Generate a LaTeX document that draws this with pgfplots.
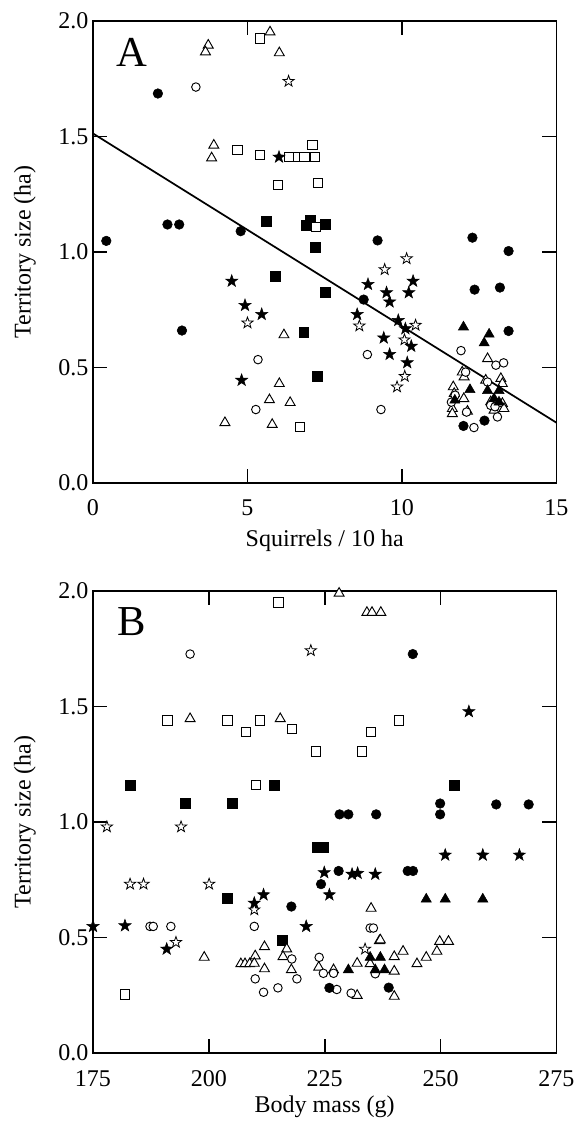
\documentclass[border=0pt]{standalone}
\usepackage{fontspec}
\setmainfont{Liberation Serif}
\usepackage{pgfplots}
\pgfplotsset{compat=1.18}

% five-pointed star, filled or open depending on fill colour
\pgfdeclareplotmark{fivestar}{%
  \pgfpathmoveto{\pgfpointpolar{90}{\pgfplotmarksize}}%
  \pgfpathlineto{\pgfpointpolar{126}{0.4\pgfplotmarksize}}%
  \pgfpathlineto{\pgfpointpolar{162}{\pgfplotmarksize}}%
  \pgfpathlineto{\pgfpointpolar{198}{0.4\pgfplotmarksize}}%
  \pgfpathlineto{\pgfpointpolar{234}{\pgfplotmarksize}}%
  \pgfpathlineto{\pgfpointpolar{270}{0.4\pgfplotmarksize}}%
  \pgfpathlineto{\pgfpointpolar{306}{\pgfplotmarksize}}%
  \pgfpathlineto{\pgfpointpolar{342}{0.4\pgfplotmarksize}}%
  \pgfpathlineto{\pgfpointpolar{18}{\pgfplotmarksize}}%
  \pgfpathlineto{\pgfpointpolar{54}{0.4\pgfplotmarksize}}%
  \pgfpathclose
  \pgfusepathqfillstroke}

\pgfplotsset{
  fc/.style={only marks, mark=*, mark size=3.6pt, mark options={fill=black, draw=black}},
  oc/.style={only marks, mark=*, mark size=3.2pt, mark options={fill=white, draw=black, line width=0.7pt}},
  fsq/.style={only marks, mark=square*, mark size=3.7pt, mark options={fill=black, draw=black}},
  osq/.style={only marks, mark=square*, mark size=3.5pt, mark options={fill=white, draw=black, line width=0.7pt}},
  ftr/.style={only marks, mark=triangle*, mark size=4.4pt, mark options={fill=black, draw=black}},
  otr/.style={only marks, mark=triangle*, mark size=4.3pt, mark options={fill=white, draw=black, line width=0.7pt}},
  fst/.style={only marks, mark=fivestar, mark size=4.8pt, mark options={fill=black, draw=black}},
  ost/.style={only marks, mark=fivestar, mark size=4.4pt, mark options={fill=white, draw=black, line width=0.6pt}},
  panel/.style={
    scale only axis, width=347.6pt, height=346.5pt,
    ymin=0, ymax=2, ytick={0,0.5,1,1.5,2},
    /pgf/number format/assume math mode=true,
    yticklabel style={/pgf/number format/.cd, fixed, fixed zerofill, precision=1},
    tick align=inside, major tick length=10.5pt,
    axis line style={line width=1.4pt},
    tick style={line width=1.2pt, black},
    ticklabel style={font=\fontsize{18}{20}\selectfont},
    xticklabel style={anchor=base, yshift=-24.75pt},
    label style={font=\fontsize{18}{20}\selectfont},
    ylabel={Territory size (ha)},
    ylabel style={at={(axis description cs:-0.147,0.5)}, anchor=center},
    clip=false,
  },
}

\begin{document}
\begin{tikzpicture}
\useasboundingbox (-69.75pt,-54.75pt) rectangle (363pt,789.75pt);

% ---------- panel B ----------
\begin{axis}[panel, at={(0,0)},
    xmin=175, xmax=275, xtick={175,200,225,250,275},
    xlabel={Body mass (g)},
    xlabel style={at={(axis description cs:0.5,-0.117)}, anchor=center}]
  \addplot[osq] coordinates {(215.0,1.95) (191.05,1.44) (204.0,1.44) (208.0,1.389) (211.07,1.44) (217.9,1.404) (223.1,1.306) (210.1,1.159) (241.0,1.44) (235.0,1.389) (233.0,1.306) (181.9,0.253)};
  \addplot[fsq] coordinates {(183.0,1.159) (195.0,1.08) (205.0,1.08) (214.1,1.159) (253.0,1.159) (223.4,0.892) (224.6,0.892) (204.0,0.669) (215.9,0.489)};
  \addplot[otr] coordinates {(228.1,1.99) (234.1,1.907) (235.2,1.907) (237.1,1.907) (195.95,1.447) (215.4,1.447) (199.0,0.414) (212.0,0.46) (206.9,0.386) (207.8,0.386) (208.8,0.386) (210.0,0.42) (209.8,0.388) (212.0,0.364) (216.8,0.45) (216.0,0.417) (217.8,0.36) (223.7,0.371) (236.8,0.486) (226.9,0.36) (232.0,0.388) (234.8,0.386) (240.0,0.417) (241.9,0.44) (240.0,0.354) (232.0,0.249) (240.0,0.245) (244.9,0.386) (246.9,0.414) (249.2,0.44) (249.8,0.483) (251.7,0.483) (235.0,0.626) (237.0,0.489)};
  \addplot[oc] coordinates {(195.95,1.727) (187.3,0.548) (188.0,0.548) (191.8,0.548) (209.8,0.548) (210.0,0.321) (211.8,0.263) (214.9,0.282) (217.9,0.407) (219.0,0.321) (223.8,0.414) (224.7,0.345) (226.9,0.345) (227.6,0.275) (230.7,0.259) (235.9,0.343) (234.8,0.541) (235.5,0.541)};
  \addplot[fc] coordinates {(244.0,1.727) (228.2,1.033) (230.1,1.033) (236.1,1.033) (249.9,1.08) (249.9,1.033) (262.0,1.076) (269.0,1.076) (224.2,0.731) (217.8,0.634) (226.0,0.282) (228.0,0.788) (242.9,0.788) (244.05,0.788) (238.8,0.283)};
  \addplot[ftr] coordinates {(246.9,0.666) (251.0,0.666) (259.1,0.666) (230.1,0.36) (234.8,0.414) (237.0,0.414) (235.9,0.36) (237.9,0.36)};
  \addplot[ost] coordinates {(222.0,1.742) (178.0,0.979) (194.0,0.979) (183.0,0.731) (185.9,0.731) (200.05,0.731) (209.8,0.62) (192.9,0.479) (233.7,0.45)};
  \addplot[fst] coordinates {(256.1,1.478) (251.0,0.857) (259.1,0.857) (267.0,0.857) (224.9,0.781) (230.9,0.774) (232.1,0.778) (235.9,0.774) (226.0,0.685) (209.8,0.649) (211.8,0.685) (221.0,0.548) (175.0,0.548) (181.9,0.551) (190.9,0.45)};
  \node at (axis cs:183.4,1.867) {\fontsize{32}{32}\selectfont B};
\end{axis}

% ---------- panel A ----------
\begin{axis}[panel, at={(0,427.5pt)},
    xmin=0, xmax=15, xtick={0,5,10,15},
    xlabel={Squirrels / 10 ha},
    xlabel style={at={(axis description cs:0.5,-0.126)}, anchor=center}]
  \addplot[black, line width=1.3pt] coordinates {(0,1.513) (15,0.261)};
  \addplot[fsq] coordinates {(5.62,1.134) (7.03,1.137) (6.9,1.116) (7.52,1.12) (7.19,1.022) (5.89,0.896) (7.52,0.824) (6.82,0.652) (7.26,0.463)};
  \addplot[osq] coordinates {(5.41,1.924) (4.68,1.443) (5.41,1.419) (6.36,1.411) (6.65,1.411) (6.84,1.411) (7.19,1.411) (7.1,1.462) (5.98,1.289) (7.28,1.299) (7.21,1.108) (6.7,0.242)};
  \addplot[otr] coordinates {(3.73,1.895) (3.64,1.866) (5.73,1.952) (6.03,1.862) (3.91,1.462) (3.84,1.407) (6.18,0.641) (6.03,0.43) (5.71,0.36) (6.38,0.348) (4.27,0.261) (5.8,0.253) (12.77,0.538) (11.95,0.48) (12.01,0.459) (11.66,0.416) (11.69,0.387) (12.0,0.365) (11.63,0.322) (11.63,0.30) (12.71,0.445) (13.2,0.452) (13.25,0.43) (12.87,0.351) (13.25,0.344) (13.3,0.322) (12.98,0.315) (12.12,0.31)};
  \addplot[oc] coordinates {(3.33,1.714) (5.34,0.534) (5.27,0.318) (8.88,0.556) (9.32,0.318) (11.91,0.573) (13.04,0.51) (13.29,0.52) (12.06,0.48) (12.77,0.437) (11.6,0.35) (12.87,0.336) (13.09,0.286) (12.33,0.24) (12.09,0.307) (13.01,0.33) (11.72,0.38)};
  \addplot[fc] coordinates {(0.43,1.048) (2.1,1.686) (2.41,1.119) (2.79,1.119) (4.78,1.09) (2.88,0.66) (8.76,0.794) (9.21,1.05) (12.28,1.062) (13.45,1.004) (12.35,0.837) (13.17,0.846) (13.45,0.658) (11.99,0.247) (12.67,0.27)};
  \addplot[ftr] coordinates {(11.99,0.675) (12.82,0.644) (12.66,0.606) (12.2,0.404) (11.71,0.358) (12.77,0.40) (13.14,0.40) (12.98,0.365) (13.14,0.35)};
  \addplot[ost] coordinates {(6.33,1.739) (5.0,0.693) (10.15,0.971) (9.44,0.924) (8.62,0.68) (10.44,0.683) (10.08,0.62) (10.09,0.462) (9.84,0.416)};
  \addplot[fst] coordinates {(6.02,1.411) (4.49,0.874) (4.92,0.769) (5.46,0.73) (4.81,0.445) (8.9,0.86) (9.5,0.824) (9.6,0.784) (10.36,0.874) (10.22,0.824) (8.55,0.73) (9.88,0.704) (10.11,0.668) (9.41,0.628) (10.3,0.592) (9.6,0.557) (10.17,0.521)};
  \node at (axis cs:1.27,1.866) {\fontsize{32}{32}\selectfont A};
\end{axis}
\end{tikzpicture}
\end{document}
